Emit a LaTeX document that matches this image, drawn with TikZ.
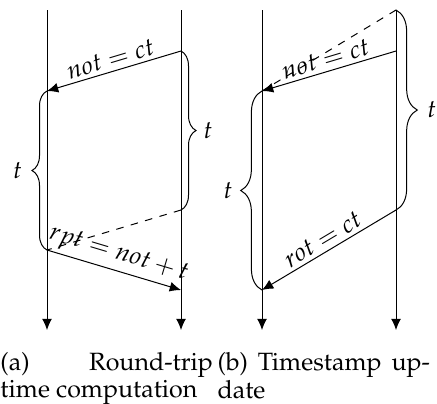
\documentclass[tikz,border=0pt]{standalone}
\usepackage{amsmath, amssymb}
\usepackage[T1]{fontenc}
\usepackage{mathpazo}
\usepackage{tikz}
\usetikzlibrary{decorations.pathreplacing, arrows.meta}

\tikzset{
	lane/.style={-{Latex[length=4.5pt, width=4pt]}},
	msg/.style={-{Latex[length=4.5pt, width=4pt]}},
	lag/.style={dashed},
	tbrace/.style={decorate, decoration={brace, amplitude=#1}},
	subcap/.style={anchor=north west, inner sep=0pt, text width=85pt, align=justify,
		font=\fontsize{10pt}{9.4pt}\selectfont}
}

\begin{document}
\begin{tikzpicture}[x=0.4pt, y=-0.4pt]
			\useasboundingbox (0,0) rectangle (437,403);
			\def\la{47}
			\def\lb{181}
			\def\lc{262}
			\def\ld{396}

			% (a) round-trip time
			\coordinate (atop) at (\la, 10);  \coordinate (abot) at (\la, 330);
			\coordinate (btop) at (\lb, 10);  \coordinate (bbot) at (\lb, 330);
			\coordinate (b0) at (\lb, 51);
			\coordinate (a1) at (\la, 91);
			\coordinate (b1) at (\lb, 210);
			\coordinate (a2) at (\la, 250);
			\coordinate (b2) at (\lb, 290);

			\draw[lane] (atop) -- (abot);
			\draw[lane] (btop) -- (bbot);
			\draw[msg] (b0) -- (a1) node[midway, above, sloped, inner sep=1.5pt] {$not = ct$};
			\draw[lag] (b1) -- (a2);
			\draw[msg] (a2) -- (b2) node[midway, above, sloped, inner sep=1.5pt] {$rpt = not + t$};
			\draw[tbrace=6pt] (b0) -- (b1) node[midway, right=5.5pt] {$t$};
			\draw[tbrace=6pt] (a2) -- (a1) node[midway, left=6.5pt] {$t$};

			% (b) timestamp update
			\coordinate (ctop) at (\lc, 10);  \coordinate (cbot) at (\lc, 330);
			\coordinate (dtop) at (\ld, 10);  \coordinate (dbot) at (\ld, 330);
			\coordinate (d1) at (\ld, 51);
			\coordinate (c1) at (\lc, 91);
			\coordinate (d2) at (\ld, 210);
			\coordinate (c2) at (\lc, 290);

			\draw[lane] (ctop) -- (cbot);
			\draw[lane] (dtop) -- (dbot);
			\draw[lag] (dtop) -- (c1);
			\draw[msg] (d1) -- (c1) node[midway, above, sloped, inner sep=1.5pt] {$not = ct$};
			\draw[msg] (d2) -- (c2) node[midway, above, sloped, inner sep=1.5pt] {$rot = ct$};
			\draw[tbrace=8.5pt] (dtop) -- (d2) node[midway, right=9pt] {$t$};
			\draw[tbrace=8.5pt] (c2) -- (c1) node[midway, left=8.3pt] {$t$};

			% captions
			\node[subcap] (capa) at (0, 352) {(a) Round-trip\linebreak time computation};
			\node[subcap] (capb) at (217, 352) {(b) Timestamp up-\linebreak date};
		\end{tikzpicture}
\end{document}
